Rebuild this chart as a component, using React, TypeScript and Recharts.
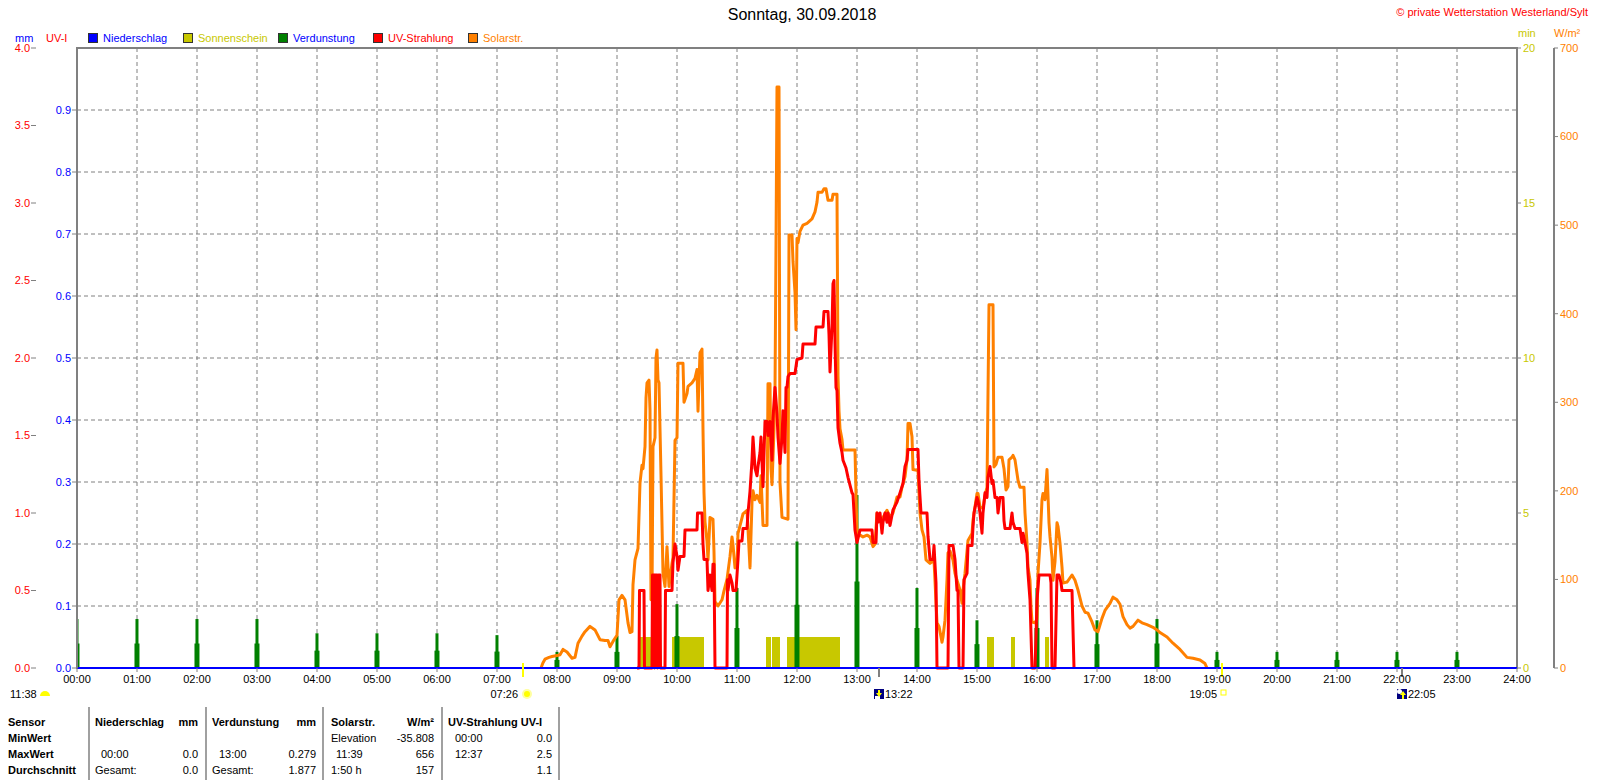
import { ComposedChart, Line, Area, Bar, XAxis, YAxis, CartesianGrid, ReferenceArea, ReferenceDot } from 'recharts'

const FONT = '"Liberation Sans", Arial, sans-serif'
const GRAY = '#808080'
const BLUE = '#0000ff'
const YELLOW = '#c8c800'
const GREEN = '#008000'
const RED = '#ff0000'
const ORANGE = '#ff8000'

// minutes since midnight
const hourTicks = [0, 60, 120, 180, 240, 300, 360, 420, 480, 540, 600, 660, 720, 780, 840, 900, 960, 1020, 1080, 1140, 1200, 1260, 1320, 1380, 1440]
const mmTicks = [0, 0.1, 0.2, 0.3, 0.4, 0.5, 0.6, 0.7, 0.8, 0.9]
const uvTicks = [0, 0.5, 1, 1.5, 2, 2.5, 3, 3.5, 4]
const minTicks = [0, 5, 10, 15, 20]
const wTicks = [0, 100, 200, 300, 400, 500, 600, 700]

// Verdunstung per hour (mm), 00:00 .. 23:00
const evapHours = [0, 60, 120, 180, 240, 300, 360, 420, 480, 540, 600, 660, 720, 780, 840, 900, 960, 1020, 1080, 1140, 1200, 1260, 1320, 1380]
const evapValues = [0.079, 0.079, 0.079, 0.079, 0.056, 0.056, 0.056, 0.053, 0.026, 0.052, 0.103, 0.129, 0.204, 0.279, 0.129, 0.077, 0.129, 0.077, 0.079, 0.026, 0.026, 0.026, 0.026, 0.026]

// Niederschlag (mm), stays zero all day
const rainHours = [0, 1440]
const rainValues = [0, 0]

// Sonnenschein: minutes of sunshine, [from, to]
const sunIntervals = [[561, 581], [595, 627], [689, 694], [695, 703], [710, 763], [910, 917], [934, 938], [968, 972]]

// UV-Strahlung [minute, UV-I]
const uvPoints = [
  [560, 0], [562, 0], [562.5, 0.5], [567, 0.5], [567.5, 0], [575, 0], [575.5, 0.6], [577, 0.6], [577.5, 0], [578, 0.6],
  [580, 0.6], [580.5, 0], [581.5, 0.6], [583, 0.6], [583.5, 0], [588, 0], [588.5, 0.5], [595, 0.5], [596, 0.68], [598, 0.8],
  [600, 0.72], [601, 0.63], [603, 0.72], [607, 0.72], [608, 0.89], [620, 0.89], [620.5, 1.0], [625, 1.0], [626, 0.8], [627, 0.7],
  [630, 0.7], [631, 0.5], [633, 0.6], [635, 0.5], [636, 0.67], [637, 0.67], [638, 0], [650, 0], [650.5, 0.57], [651, 0.5],
  [653, 0.6], [655, 0.55], [656, 0.5], [659, 0.5], [660, 0.6], [661, 0.7], [662, 0.82], [665, 0.82], [666, 0.9], [670, 0.9],
  [671, 1.0], [673, 1.14], [675, 1.34], [676, 1.49], [678, 1.29], [680, 1.24], [681, 1.3], [683, 1.39], [684, 1.49], [686, 1.17],
  [688, 1.59], [690, 1.59], [691, 1.5], [693, 1.59], [695, 1.34], [696, 1.61], [698, 1.81], [700, 1.64], [701, 1.49], [703, 1.32],
  [705, 1.49], [706, 1.66], [708, 1.39], [709, 1.81], [710, 1.81], [711, 1.88], [713, 1.9], [718, 1.9], [720, 1.99], [725, 2.0],
  [726, 2.09], [738, 2.09], [739, 2.2], [746, 2.2], [747, 2.3], [751, 2.3], [752, 2.15], [753, 1.91], [755, 2.2], [756, 2.48],
  [757, 2.5], [758, 2.1], [759, 1.81], [760, 1.79], [761, 1.55], [763, 1.45], [765, 1.39], [766, 1.34], [769, 1.29], [771, 1.23],
  [775, 1.13], [776, 1.12], [778, 0.89], [780, 0.81], [783, 0.89], [795, 0.89], [796, 0.81], [799, 0.81], [800, 1.0], [801, 0.94],
  [803, 1.0], [805, 0.87], [806, 0.94], [808, 1.0], [810, 0.94], [811, 1.0], [813, 0.92], [816, 1.02], [820, 1.07], [823, 1.13],
  [826, 1.19], [828, 1.3], [830, 1.34], [831, 1.41], [841, 1.41], [842, 1.21], [844, 1.0], [850, 1.0], [851, 0.85], [853, 0.7],
  [856, 0.7], [857, 0.79], [859, 0.55], [860, 0], [871, 0], [872, 0.79], [876, 0.79], [878, 0.7], [880, 0.5], [881, 0.5],
  [882, 0], [886, 0], [887, 0.57], [890, 0.61], [891, 0.79], [895, 0.79], [896, 0.91], [897, 1.0], [900, 1.1], [901, 1.08],
  [903, 1.0], [905, 0.87], [906, 1.0], [908, 1.13], [910, 1.1], [911, 1.23], [913, 1.3], [915, 1.19], [916, 1.21], [918, 1.1],
  [920, 1.1], [921, 1.0], [923, 1.1], [926, 1.1], [927, 0.95], [928, 0.9], [933, 0.9], [935, 1.0], [936, 0.94], [938, 0.9],
  [943, 0.9], [945, 0.81], [946, 0.87], [948, 0.81], [950, 0.74], [951, 0.61], [953, 0.44], [955, 0], [958, 0], [959, 0.2],
  [960, 0.44], [962, 0.6], [973, 0.6], [974, 0.55], [975, 0], [978, 0], [980, 0.6], [982, 0.6], [984, 0.55], [985, 0.5],
  [995, 0.5], [996, 0.25], [997, 0],
]

// Solarstrahlung [minute, W/m²]
const solarPoints = [
  [464, 0], [466, 6], [468, 10], [472, 12], [475, 13], [480, 14], [483, 15], [486, 21], [490, 18], [495, 11],
  [498, 12], [501, 28], [505, 36], [508, 41], [513, 47], [518, 43], [523, 32], [528, 31], [531, 31], [533, 24],
  [536, 30], [540, 37], [542, 77], [545, 82], [548, 77], [551, 51], [553, 40], [555, 41], [556, 94], [558, 122],
  [561, 135], [563, 209], [565, 229], [566, 225], [568, 250], [569, 305], [570, 322], [572, 325], [573, 291], [574, 77],
  [575, 80], [576, 250], [578, 260], [579, 350], [580, 359], [581, 325], [582, 322], [584, 218], [586, 107], [588, 92],
  [590, 137], [592, 92], [595, 118], [596, 125], [598, 257], [600, 260], [601, 344], [606, 344], [607, 300], [610, 310],
  [611, 318], [615, 322], [618, 327], [620, 337], [621, 290], [623, 356], [625, 360], [626, 269], [627, 198], [628, 165],
  [630, 143], [631, 122], [633, 170], [636, 168], [637, 131], [638, 75], [641, 70], [645, 77], [647, 87], [650, 100],
  [653, 126], [655, 148], [656, 139], [658, 113], [660, 115], [661, 152], [664, 165], [666, 174], [670, 178], [671, 157],
  [673, 113], [675, 187], [676, 200], [678, 190], [680, 195], [683, 187], [684, 217], [686, 161], [690, 161], [691, 321],
  [693, 321], [694, 226], [695, 207], [697, 269], [698, 313], [699, 476], [700, 656], [702, 656], [703, 209], [705, 170],
  [711, 168], [712, 489], [715, 489], [716, 459], [718, 424], [719, 382], [720, 485], [721, 480], [723, 493], [726, 500],
  [730, 502], [735, 507], [738, 515], [740, 526], [741, 537], [745, 537], [747, 541], [749, 541], [751, 528], [755, 528],
  [756, 535], [760, 535], [761, 330], [762, 290], [763, 270], [765, 258], [766, 246], [778, 246], [779, 197], [780, 150],
  [783, 150], [786, 148], [790, 150], [793, 148], [796, 137], [798, 140], [800, 175], [803, 165], [806, 170], [810, 178],
  [813, 170], [816, 175], [820, 193], [823, 193], [825, 204], [828, 216], [830, 235], [831, 276], [833, 276], [835, 261],
  [836, 224], [841, 223], [843, 175], [845, 156], [847, 148], [849, 122], [853, 118], [857, 122], [860, 51], [862, 47],
  [865, 29], [866, 35], [868, 54], [870, 99], [871, 130], [873, 132], [876, 122], [878, 107], [880, 99], [883, 88],
  [885, 73], [886, 88], [888, 107], [891, 144], [895, 152], [896, 167], [900, 197], [901, 197], [903, 182], [906, 180],
  [908, 195], [910, 204], [911, 310], [912, 410], [916, 410], [917, 227], [919, 230], [921, 238], [925, 238], [927, 225],
  [929, 201], [931, 205], [932, 235], [935, 238], [936, 240], [938, 235], [941, 212], [943, 204], [947, 204], [948, 175],
  [950, 141], [951, 114], [953, 99], [954, 69], [955, 52], [958, 51], [960, 55], [961, 107], [963, 141], [965, 190],
  [966, 197], [968, 190], [970, 224], [971, 195], [972, 164], [973, 148], [975, 125], [976, 99], [978, 120], [980, 164],
  [981, 160], [983, 141], [985, 114], [986, 96], [990, 97], [995, 105], [998, 99], [1001, 88], [1005, 70], [1008, 63],
  [1011, 62], [1015, 52], [1018, 43], [1021, 41], [1025, 56], [1028, 65], [1033, 73], [1036, 80], [1040, 77], [1043, 72],
  [1046, 58], [1050, 49], [1053, 45], [1056, 47], [1061, 54], [1065, 51], [1070, 49], [1076, 46], [1080, 43], [1083, 40],
  [1090, 35], [1096, 28], [1103, 21], [1110, 12], [1116, 11], [1123, 9], [1128, 5], [1130, 0],
]

// sun / moon events shown below the time axis
const events = [
  { t: 446, text: '07:26', kind: 'rise' },
  { t: 802, text: '13:22', kind: 'noon' },
  { t: 1145, text: '19:05', kind: 'set' },
  { t: 1325, text: '22:05', kind: 'moon' },
]

const legendItems = [
  { name: 'Niederschlag', color: BLUE, text: BLUE },
  { name: 'Sonnenschein', color: YELLOW, text: YELLOW },
  { name: 'Verdunstung', color: GREEN, text: BLUE },
  { name: 'UV-Strahlung', color: RED, text: RED },
  { name: 'Solarstr.', color: ORANGE, text: ORANGE },
]

const evapData = evapHours.map((t, i) => ({ t, evap: evapValues[i] }))
const rainData = rainHours.map((t, i) => ({ t, rain: rainValues[i] }))
const uvData = uvPoints.map(([t, v]) => ({ t, uv: v }))
const solarData = solarPoints.map(([t, v]) => ({ t, w: v }))
const sunData = [{ t: 0, sun: 0 }, ...sunIntervals.flatMap(([a, b]) => [{ t: a, sun: 1 }, { t: b, sun: 0 }]), { t: 1440, sun: 0 }]

const hhmm = (m: number) => `${String(Math.floor(m / 60)).padStart(2, '0')}:${String(m % 60).padStart(2, '0')}`

function EvapShape(props: any) {
  const { x, y, width, height } = props
  if (!height || height <= 0) return null
  const cx = x + width / 2
  return (
    <g>
      <rect x={cx - 1.5} y={y} width={3} height={height} fill={GREEN} />
      <rect x={cx - 2.5} y={y + height / 2} width={5} height={height / 2} fill={GREEN} />
    </g>
  )
}

function EventMark({ cx, cy, ev }: any) {
  const txt = { fontFamily: FONT, fontSize: 11, fill: '#000' }
  if (ev.kind === 'rise' || ev.kind === 'set') {
    return (
      <g>
        <rect x={cx - 1} y={cy - 5} width={2} height={14} fill="#ffff00" />
        <text x={cx - 5} y={cy + 30} textAnchor="end" {...txt}>{ev.text}</text>
        {ev.kind === 'rise' ? (
          <g>
            <circle cx={cx + 4} cy={cy + 26} r={5} fill="#ffffa0" />
            <circle cx={cx + 4} cy={cy + 26} r={3} fill="#ffff00" />
          </g>
        ) : (
          <rect x={cx - 1} y={cy + 22} width={5} height={5} fill="none" stroke="#ffff00" strokeWidth={1} />
        )}
      </g>
    )
  }
  const up = ev.kind === 'moon'
  return (
    <g>
      <rect x={cx - 1} y={cy} width={2} height={9} fill={GRAY} />
      <rect x={cx - 5} y={cy + 21} width={10} height={10} fill="#000080" />
      {up ? (
        <g>
          <circle cx={cx - 2.5} cy={cy + 23.5} r={2.5} fill="#fff" />
          <polygon points={`${cx + 1},${cy + 23} ${cx + 4},${cy + 27} ${cx + 2},${cy + 27} ${cx + 2},${cy + 31} ${cx},${cy + 31} ${cx},${cy + 27} ${cx - 2},${cy + 27}`} fill="#ffff00" />
        </g>
      ) : (
        <g>
          <rect x={cx - 4} y={cy + 28} width={5} height={3} fill="#fff" />
          <polygon points={`${cx - 1},${cy + 22} ${cx + 1},${cy + 22} ${cx + 1},${cy + 25} ${cx + 3},${cy + 25} ${cx},${cy + 29} ${cx - 3},${cy + 25} ${cx - 1},${cy + 25}`} fill="#ffff00" />
        </g>
      )}
      <text x={cx + 6} y={cy + 30} {...txt}>{ev.text}</text>
    </g>
  )
}

function T({ x, y, children, color = '#000', bold = false, align = 'left', size = 11 }: any) {
  const style: any = {
    position: 'absolute', top: y - 7, height: 14, lineHeight: '14px', fontSize: size,
    fontWeight: bold ? 'bold' : 'normal', color, whiteSpace: 'nowrap',
  }
  if (align === 'right') { style.left = x - 300; style.width = 300; style.textAlign = 'right' }
  else if (align === 'center') { style.left = x - 300; style.width = 600; style.textAlign = 'center' }
  else style.left = x
  return <div style={style}>{children}</div>
}

const tableCells = [
  { x: 8, y: 722, s: 'Sensor', b: true }, { x: 95, y: 722, s: 'Niederschlag', b: true }, { x: 198, y: 722, s: 'mm', b: true, r: true },
  { x: 212, y: 722, s: 'Verdunstung', b: true }, { x: 316, y: 722, s: 'mm', b: true, r: true },
  { x: 331, y: 722, s: 'Solarstr.', b: true }, { x: 434, y: 722, s: 'W/m²', b: true, r: true },
  { x: 448, y: 722, s: 'UV-Strahlung UV-I', b: true },
  { x: 8, y: 738, s: 'MinWert', b: true }, { x: 331, y: 738, s: 'Elevation' }, { x: 434, y: 738, s: '-35.808', r: true },
  { x: 455, y: 738, s: '00:00' }, { x: 552, y: 738, s: '0.0', r: true },
  { x: 8, y: 754, s: 'MaxWert', b: true }, { x: 101, y: 754, s: '00:00' }, { x: 198, y: 754, s: '0.0', r: true },
  { x: 219, y: 754, s: '13:00' }, { x: 316, y: 754, s: '0.279', r: true }, { x: 336, y: 754, s: '11:39' },
  { x: 434, y: 754, s: '656', r: true }, { x: 455, y: 754, s: '12:37' }, { x: 552, y: 754, s: '2.5', r: true },
  { x: 8, y: 770, s: 'Durchschnitt', b: true }, { x: 95, y: 770, s: 'Gesamt:' }, { x: 198, y: 770, s: '0.0', r: true },
  { x: 212, y: 770, s: 'Gesamt:' }, { x: 316, y: 770, s: '1.877', r: true }, { x: 331, y: 770, s: '1:50 h' },
  { x: 434, y: 770, s: '157', r: true }, { x: 552, y: 770, s: '1.1', r: true },
]
const tableSeparators = [89, 206, 323, 442, 559]

export default function App() {
  const tick = (fill: string) => ({ fill, fontSize: 11, fontFamily: FONT })
  return (
    <div style={{ position: 'absolute', left: 0, top: 0, width: 1600, height: 780, background: '#fff', fontFamily: FONT, overflow: 'hidden' }}>
      <T x={802} y={15} size={16} align="center">Sonntag, 30.09.2018</T>
      <T x={1588} y={12} color={RED} align="right">© private Wetterstation Westerland/Sylt</T>
      <T x={15} y={38} color={BLUE}>mm</T>
      <T x={46} y={38} color={RED}>UV-I</T>
      <T x={1518} y={33} color={YELLOW}>min</T>
      <T x={1554} y={33} color={ORANGE}>W/m²</T>
      {legendItems.map((it, i) => (
        <div key={it.name} style={{ position: 'absolute', left: 88 + i * 95, top: 32, display: 'flex', alignItems: 'center', fontSize: 11, color: it.text, lineHeight: '12px' }}>
          <span style={{ display: 'inline-block', width: 8, height: 8, background: it.color, border: '1px solid #333', marginRight: 5 }} />
          {it.name}
        </div>
      ))}

      <div style={{ position: 'absolute', left: 0, top: 0 }}>
        <ComposedChart width={1600} height={700} data={evapData} margin={{ top: 48, right: 0, bottom: 0, left: 0 }}>
          <CartesianGrid yAxisId="mm" stroke={GRAY} strokeDasharray="4 3" />
          <XAxis dataKey="t" type="number" domain={[0, 1440]} ticks={hourTicks} interval={0} tickFormatter={hhmm}
            allowDataOverflow height={32} axisLine={false} tickLine={{ stroke: GRAY }} tickSize={4} tickMargin={3} tick={tick('#000')} />
          <YAxis yAxisId="uv" orientation="left" width={36} domain={[0, 4]} ticks={uvTicks} interval={0}
            tickFormatter={(v: number) => v.toFixed(1)} axisLine={false} tickLine={{ stroke: GRAY }} tickSize={5} tickMargin={1} tick={tick(RED)} />
          <YAxis yAxisId="mm" orientation="left" width={41} domain={[0, 1]} ticks={mmTicks} interval={0}
            tickFormatter={(v: number) => v.toFixed(1)} axisLine={{ stroke: GRAY, strokeWidth: 2 }} tickLine={{ stroke: GRAY }} tickSize={5} tickMargin={1} tick={tick(BLUE)} />
          <YAxis yAxisId="min" orientation="right" width={37} domain={[0, 20]} ticks={minTicks} interval={0}
            axisLine={false} tickLine={{ stroke: GRAY }} tickSize={4} tickMargin={2} tick={tick(YELLOW)} />
          <YAxis yAxisId="w" orientation="right" width={46} domain={[0, 700]} ticks={wTicks} interval={0}
            axisLine={{ stroke: GRAY, strokeWidth: 2 }} tickLine={{ stroke: GRAY }} tickSize={4} tickMargin={2} tick={tick(ORANGE)} />
          <ReferenceArea yAxisId="uv" x1={0} x2={1440} y1={0} y2={4} fill="none" stroke={GRAY} strokeWidth={2} ifOverflow="visible" />
          <Area yAxisId="min" data={sunData} dataKey="sun" type="stepAfter" stroke="none" fill={YELLOW} fillOpacity={1} isAnimationActive={false} />
          <Line yAxisId="w" data={solarData} dataKey="w" type="linear" stroke={ORANGE} strokeWidth={3} dot={false} strokeLinejoin="round" isAnimationActive={false} />
          <Line yAxisId="uv" data={uvData} dataKey="uv" type="linear" stroke={RED} strokeWidth={3} dot={false} strokeLinejoin="round" isAnimationActive={false} />
          <Bar yAxisId="mm" dataKey="evap" barSize={5} shape={<EvapShape />} isAnimationActive={false} />
          <Line yAxisId="mm" data={rainData} dataKey="rain" type="linear" stroke={BLUE} strokeWidth={2} dot={false} isAnimationActive={false} />
          {events.map((ev) => (
            <ReferenceDot key={ev.t} yAxisId="uv" x={ev.t} y={0} ifOverflow="visible"
              shape={(p: any) => <EventMark cx={p.cx} cy={p.cy} ev={ev} />} />
          ))}
        </ComposedChart>
      </div>

      <T x={10} y={694}>11:38</T>
      <svg style={{ position: 'absolute', left: 39, top: 689 }} width={12} height={8}>
        <path d="M1,7 A5,5 0 0 1 11,7 Z" fill="#ffff00" />
      </svg>

      {tableSeparators.map((x) => (
        <div key={x} style={{ position: 'absolute', left: x - 1, top: 707, width: 2, height: 73, background: '#a0a0a0' }} />
      ))}
      {tableCells.map((c, i) => (
        <T key={i} x={c.x} y={c.y} bold={c.b} align={c.r ? 'right' : 'left'}>{c.s}</T>
      ))}
    </div>
  )
}
